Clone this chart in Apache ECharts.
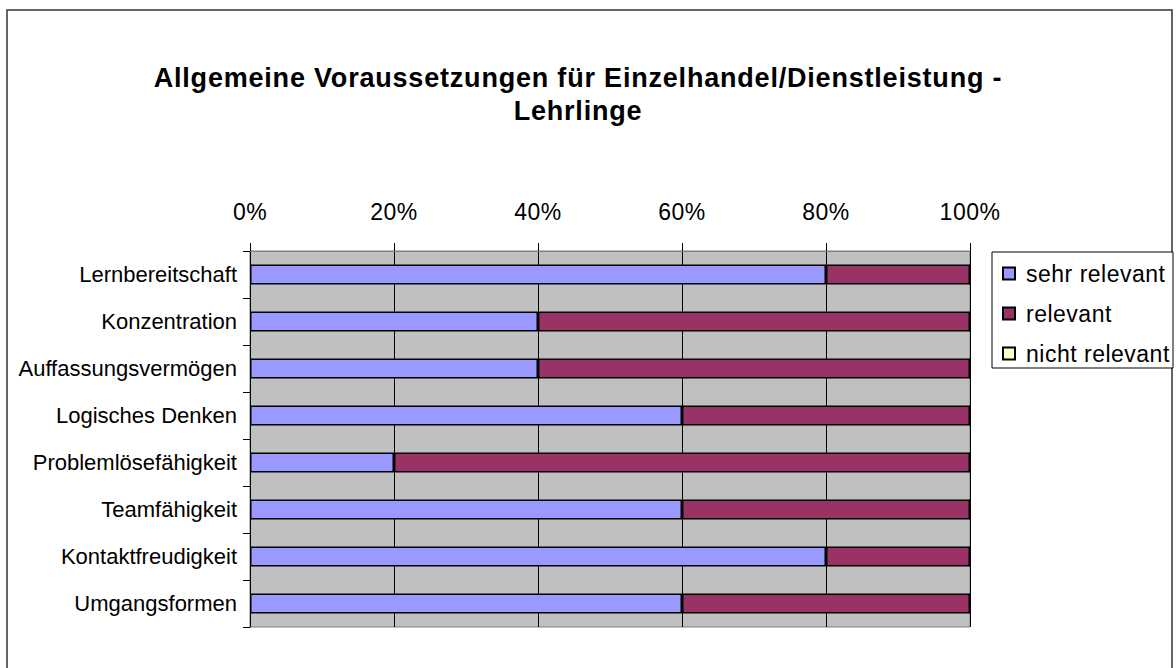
<!DOCTYPE html>
<html>
<head>
<meta charset="utf-8">
<script src="https://cdn.jsdelivr.net/npm/echarts@6/dist/echarts.min.js"></script>
<style>
html, body { margin:0; padding:0; background:#fff; }
#chart { width:1176px; height:668px; }
/* old excel look: a bit of letter spacing */
text[style*="27px"] { letter-spacing: 0.8px; }
text[style*="23px"] { letter-spacing: 0.5px; }
</style>
</head>
<body>
<div id="chart"></div>
<script>
var categories = ['Lernbereitschaft', 'Konzentration', 'Auffassungsvermögen', 'Logisches Denken',
	'Problemlösefähigkeit', 'Teamfähigkeit', 'Kontaktfreudigkeit', 'Umgangsformen'];
var sehrRelevant = [80, 40, 40, 60, 20, 60, 80, 60];
var relevant = [20, 60, 60, 40, 80, 40, 20, 40];
var nichtRelevant = [0, 0, 0, 0, 0, 0, 0, 0];
var xTicks = [0, 20, 40, 60, 80, 100];

var fontName = 'Liberation Sans, Arial, sans-serif';
var myChart = echarts.init(document.getElementById('chart'), null, {renderer: 'svg'});

var option = {
	animation: false,
	title: {
		text: 'Allgemeine Voraussetzungen für Einzelhandel/Dienstleistung -\nLehrlinge',
		left: 573,
		top: 56,
		textAlign: 'center',
		textStyle: {
			color: '#000',
			fontFamily: fontName,
			fontWeight: 'bold',
			fontSize: 27,
			lineHeight: 33
		}
	},
	graphic: [
		{
			type: 'rect',
			shape: {x: 7, y: 10, width: 1165, height: 700},
			style: {fill: 'none', stroke: '#333', lineWidth: 1.5},
			silent: true
		},
		{
			type: 'rect',
			shape: {x: 992, y: 252, width: 181, height: 116},
			style: {fill: '#fff', stroke: '#000', lineWidth: 1},
			silent: true
		}
	],
	legend: {
		orient: 'vertical',
		left: 992,
		top: 252,
		padding: [10, 6, 6, 10],
		itemGap: 17,
		itemWidth: 12,
		itemHeight: 12,
		icon: 'rect',
		z: 10,
		data: ['sehr relevant', 'relevant', 'nicht relevant'],
		textStyle: {
			color: '#000',
			fontFamily: fontName,
			fontSize: 23,
			padding: [0, 0, 0, 6]
		}
	},
	grid: {
		left: 250,
		right: 206,
		top: 251,
		bottom: 41,
		show: true,
		backgroundColor: '#C0C0C0',
		borderColor: '#808080',
		borderWidth: 1,
		containLabel: false
	},
	xAxis: {
		type: 'value',
		position: 'top',
		min: xTicks[0],
		max: xTicks[xTicks.length - 1],
		interval: 20,
		axisLine: {show: true, lineStyle: {color: '#808080', width: 1}},
		axisTick: {show: true, length: 8, lineStyle: {color: '#000', width: 1}},
		splitLine: {show: true, lineStyle: {color: '#000', width: 1}},
		axisLabel: {
			margin: 28,
			color: '#000',
			fontFamily: fontName,
			fontSize: 23,
			formatter: '{value}%'
		}
	},
	yAxis: {
		type: 'category',
		inverse: true,
		data: categories,
		axisLine: {show: true, lineStyle: {color: '#000', width: 1}},
		axisTick: {show: true, length: 7, lineStyle: {color: '#000', width: 1}},
		axisLabel: {
			margin: 13,
			color: '#000',
			fontFamily: fontName,
			fontSize: 22
		}
	},
	series: [
		{
			name: 'sehr relevant',
			type: 'bar',
			stack: 'all',
			barWidth: 20,
			itemStyle: {color: '#9999FF', borderColor: '#000', borderWidth: 1.5},
			data: sehrRelevant
		},
		{
			name: 'relevant',
			type: 'bar',
			stack: 'all',
			barWidth: 20,
			itemStyle: {color: '#993366', borderColor: '#000', borderWidth: 1.5},
			data: relevant
		},
		{
			name: 'nicht relevant',
			type: 'bar',
			stack: 'all',
			barWidth: 20,
			itemStyle: {color: '#FFFFCC', borderColor: '#000', borderWidth: 1.5},
			data: nichtRelevant
		}
	]
};
myChart.setOption(option);
</script>
</body>
</html>
